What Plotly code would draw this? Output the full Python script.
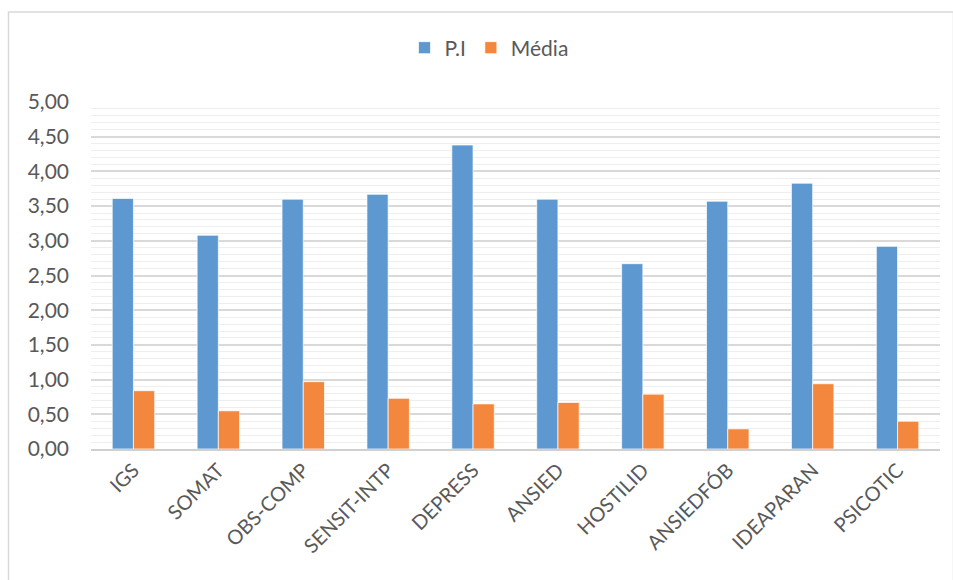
import plotly.graph_objects as go

categories = ["IGS", "SOMAT", "OBS-COMP", "SENSIT-INTP", "DEPRESS", "ANSIED",
              "HOSTILID", "ANSIEDFÓB", "IDEAPARAN", "PSICOTIC"]
pi_values = [3.61, 3.08, 3.60, 3.67, 4.38, 3.60, 2.67, 3.57, 3.83, 2.92]
media_values = [0.84, 0.55, 0.97, 0.73, 0.65, 0.67, 0.79, 0.29, 0.94, 0.40]
y_ticks = [0, 0.5, 1, 1.5, 2, 2.5, 3, 3.5, 4, 4.5, 5]

FONT = "Lato, Carlito, Calibri, sans-serif"
TXT = "#595959"

fig = go.Figure()
fig.add_trace(go.Bar(name="P.I", x=categories, y=pi_values,
                     marker=dict(color="#5E98D1", line=dict(color="rgba(255,255,255,0.7)", width=1))))
fig.add_trace(go.Bar(name="Média", x=categories, y=media_values,
                     marker=dict(color="#F3873D", line=dict(color="rgba(255,255,255,0.7)", width=1))))

W, H = 953, 580
L, R, T, B = 91, 13, 102, 131
pw, ph = W - L - R, H - T - B

def px_x(x):
    return (x - L) / pw

def px_y(y):
    return (H - B - y) / ph

fig.update_layout(
    width=W, height=H,
    margin=dict(l=L, r=R, t=T, b=B, autoexpand=False),
    paper_bgcolor="white", plot_bgcolor="white",
    separators=",.",
    barmode="group", bargap=0.5, bargroupgap=0,
    font=dict(family=FONT, color=TXT),
    showlegend=True,
    legend=dict(orientation="h", x=px_x(489), xanchor="center", y=px_y(48), yanchor="middle",
                font=dict(family=FONT, size=21, color=TXT), itemwidth=30,
                traceorder="normal", itemclick=False),
    xaxis=dict(tickangle=-45, tickfont=dict(family=FONT, size=20, color=TXT),
               showline=True, linecolor="#d0d0d0", linewidth=1.5,
               showgrid=False, ticks=""),
    yaxis=dict(range=[0, 5], tickvals=y_ticks, tickformat=".2f",
               tickfont=dict(family=FONT, size=21, color=TXT),
               showgrid=True, gridcolor="#d9d9d9", gridwidth=1.5,
               zeroline=False, showline=False, ticklabelstandoff=21,
               minor=dict(dtick=0.1, showgrid=True, gridcolor="#eeeeee", gridwidth=1.2)),
    shapes=[dict(type="rect", xref="paper", yref="paper",
                 x0=px_x(8.5), x1=px_x(953.5), y0=px_y(600), y1=px_y(12),
                 line=dict(color="#d9d9d9", width=1.5), fillcolor="rgba(0,0,0,0)", layer="below")],
)

fig.write_html("out.html")
